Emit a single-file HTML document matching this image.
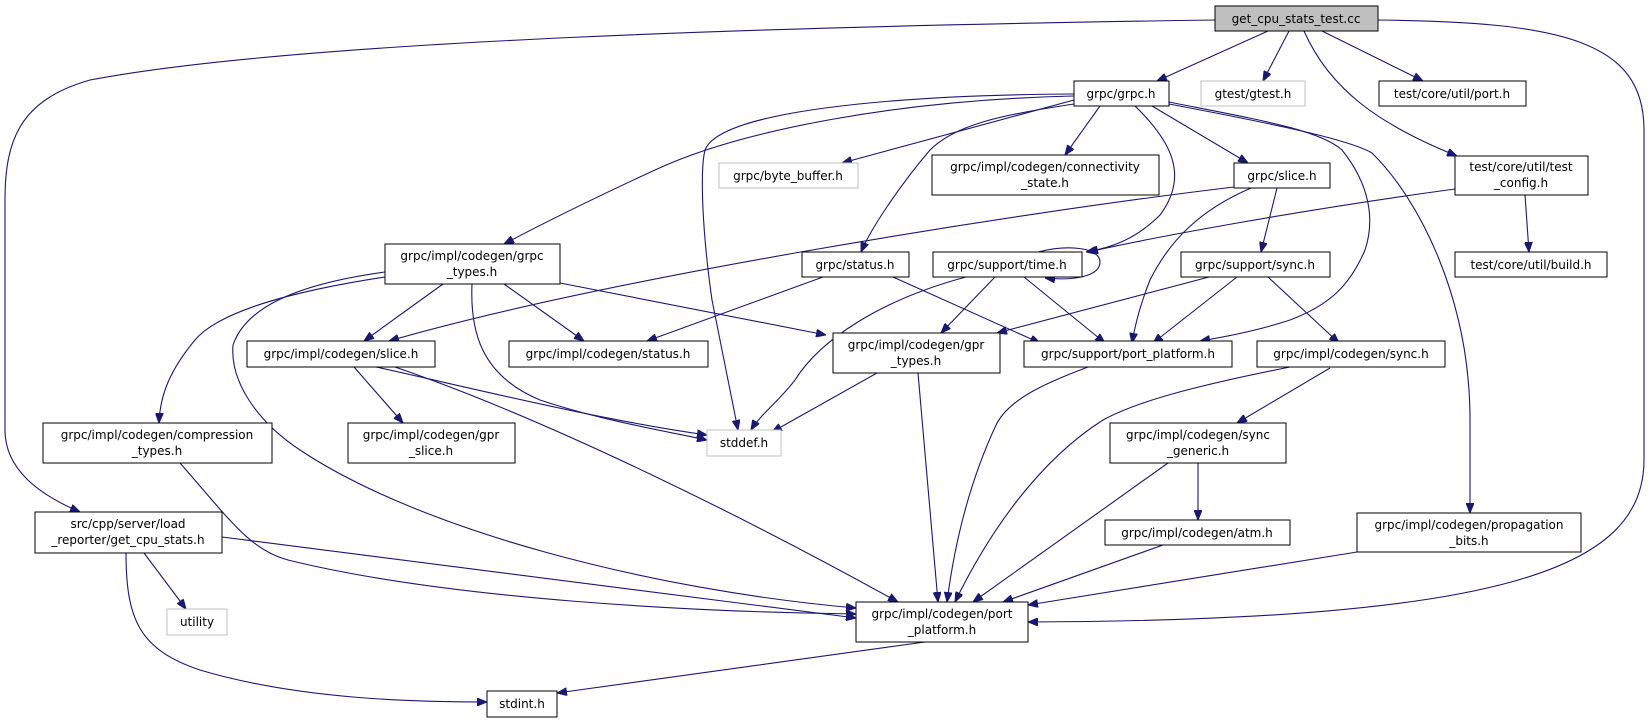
<!DOCTYPE html>
<html><head><meta charset="utf-8"><style>
html,body{margin:0;padding:0;background:#fff;}
svg{display:block;}
text{font-family:"DejaVu Sans","Liberation Sans",sans-serif;font-size:12px;fill:#000;text-anchor:middle;}
.b{fill:#fff;stroke:#000;stroke-width:1}
.g{fill:#fff;stroke:#bfbfbf;stroke-width:1}
.r{fill:#bfbfbf;stroke:#000;stroke-width:1}
.e path{fill:none;stroke:#191970;stroke-width:1.1}
</style></head><body>
<svg width="1650" height="723" viewBox="0 0 1650 723" xmlns="http://www.w3.org/2000/svg">
<defs><marker id="a" viewBox="0 0 10 8" refX="10" refY="4" markerWidth="10" markerHeight="8" orient="auto" markerUnits="userSpaceOnUse"><path d="M0,0 L10,4 L0,8 z" style="fill:#191970;stroke:#191970"/></marker></defs>
<g class="e" marker-end="url(#a)">
<path d="M1268,31 L1157,81"/>
<path d="M1289,31 L1263,81"/>
<path d="M1322,31 L1423,81"/>
<path d="M1304,31 C1330,90 1380,125 1457,156"/>
<path d="M1378,20 C1560,22 1644,40 1644,130 L1644,460 C1644,570 1500,620 1028,622"/>
<path d="M1215,20 C800,26 300,40 90,80 C20,100 5,140 5,200 L5,430 C5,470 40,495 80,512"/>
<path d="M1074,100 L842,163"/>
<path d="M1100,106 L1065,155"/>
<path d="M1152,106 L1248,163"/>
<path d="M1074,96 C900,100 740,130 655,170 C590,200 540,225 504,244"/>
<path d="M1074,94 C900,95 720,110 705,150 C700,170 702,230 712,300 L738,430"/>
<path d="M1074,104 C1000,115 955,125 930,150 C900,185 870,230 861,252"/>
<path d="M1135,106 C1170,140 1190,175 1160,215 C1135,240 1110,248 1086,252"/>
<path d="M1169,102 C1260,120 1320,130 1342,150 C1370,185 1375,220 1365,250 C1350,285 1330,305 1290,320 C1260,330 1230,336 1200,341"/>
<path d="M1169,104 C1280,125 1350,140 1372,153 C1420,200 1470,300 1470,420 L1470,513"/>
<path d="M1234,187 C1000,215 600,280 389,341"/>
<path d="M1251,188 C1200,210 1170,240 1150,280 C1140,305 1135,325 1132,343"/>
<path d="M1277,188 L1261,252"/>
<path d="M1455,189 C1300,210 1150,238 1088,252"/>
<path d="M1525,195 L1529,252"/>
<path d="M1038,252 C1070,244 1100,248 1100,262 C1100,276 1075,281 1045,278"/>
<path d="M995,277 L941,333"/>
<path d="M1024,277 L1105,343"/>
<path d="M966,277 C880,300 820,340 795,380 C780,400 760,415 751,430"/>
<path d="M823,277 L647,341"/>
<path d="M893,277 L1040,343"/>
<path d="M1209,277 L997,333"/>
<path d="M1237,277 L1153,343"/>
<path d="M1268,277 L1339,343"/>
<path d="M443,284 L364,341"/>
<path d="M504,284 L584,341"/>
<path d="M560,283 L826,335"/>
<path d="M472,284 C470,330 480,375 540,400 C600,420 660,430 707,440"/>
<path d="M385,277 C300,290 220,310 195,340 C170,370 160,395 159,423"/>
<path d="M385,272 C290,285 245,310 233,345 C230,380 255,420 300,450 C420,530 650,590 856,608"/>
<path d="M354,367 L403,423"/>
<path d="M376,367 C480,390 600,420 707,435"/>
<path d="M395,367 C550,420 750,520 898,602"/>
<path d="M877,373 L772,432"/>
<path d="M918,373 L938,602"/>
<path d="M1088,367 C1040,385 1010,400 997,423 C970,480 955,540 947,602"/>
<path d="M1290,367 C1200,385 1140,400 1103,420 C1040,460 990,530 955,602"/>
<path d="M1330,368 L1237,423"/>
<path d="M1168,463 L973,602"/>
<path d="M1198,463 L1198,520"/>
<path d="M1163,545 L1003,602"/>
<path d="M1357,552 L1028,605"/>
<path d="M180,463 C230,520 250,550 288,560 C450,600 700,612 856,614"/>
<path d="M222,537 L856,618"/>
<path d="M144,553 L186,609"/>
<path d="M126,553 C126,620 140,650 200,670 C300,700 420,702 487,702"/>
<path d="M925,642 L557,693"/>
</g>
<rect class="r" x="1215" y="6" width="163" height="25"/><text x="1296" y="23">get_cpu_stats_test.cc</text>
<rect class="b" x="1074" y="81" width="95" height="25"/><text x="1121" y="98">grpc/grpc.h</text>
<rect class="g" x="1201" y="81" width="104" height="25"/><text x="1253" y="98">gtest/gtest.h</text>
<rect class="b" x="1379" y="81" width="147" height="25"/><text x="1452" y="98">test/core/util/port.h</text>
<rect class="g" x="719" y="163" width="139" height="25"/><text x="788" y="180">grpc/byte_buffer.h</text>
<rect class="b" x="932" y="155" width="227" height="40"/><text x="1045" y="171">grpc/impl/codegen/connectivity</text><text x="1045" y="187">_state.h</text>
<rect class="b" x="1234" y="163" width="96" height="25"/><text x="1282" y="180">grpc/slice.h</text>
<rect class="b" x="1455" y="156" width="133" height="39"/><text x="1521" y="171">test/core/util/test</text><text x="1521" y="187">_config.h</text>
<rect class="b" x="385" y="244" width="175" height="40"/><text x="472" y="260">grpc/impl/codegen/grpc</text><text x="472" y="276">_types.h</text>
<rect class="b" x="802" y="252" width="107" height="25"/><text x="855" y="269">grpc/status.h</text>
<rect class="b" x="933" y="252" width="149" height="25"/><text x="1007" y="269">grpc/support/time.h</text>
<rect class="b" x="1181" y="252" width="149" height="25"/><text x="1255" y="269">grpc/support/sync.h</text>
<rect class="b" x="1455" y="252" width="152" height="25"/><text x="1531" y="269">test/core/util/build.h</text>
<rect class="b" x="247" y="341" width="188" height="26"/><text x="341" y="358">grpc/impl/codegen/slice.h</text>
<rect class="b" x="509" y="341" width="199" height="26"/><text x="608" y="358">grpc/impl/codegen/status.h</text>
<rect class="b" x="833" y="333" width="167" height="40"/><text x="916" y="349">grpc/impl/codegen/gpr</text><text x="916" y="365">_types.h</text>
<rect class="b" x="1024" y="341" width="208" height="26"/><text x="1128" y="358">grpc/support/port_platform.h</text>
<rect class="b" x="1257" y="341" width="188" height="26"/><text x="1351" y="358">grpc/impl/codegen/sync.h</text>
<rect class="b" x="43" y="423" width="229" height="40"/><text x="157" y="439">grpc/impl/codegen/compression</text><text x="157" y="455">_types.h</text>
<rect class="b" x="348" y="423" width="167" height="40"/><text x="431" y="439">grpc/impl/codegen/gpr</text><text x="431" y="455">_slice.h</text>
<rect class="g" x="707" y="430" width="74" height="26"/><text x="744" y="447">stddef.h</text>
<rect class="b" x="1110" y="423" width="176" height="40"/><text x="1198" y="439">grpc/impl/codegen/sync</text><text x="1198" y="455">_generic.h</text>
<rect class="b" x="35" y="512" width="187" height="41"/><text x="128" y="528">src/cpp/server/load</text><text x="128" y="544">_reporter/get_cpu_stats.h</text>
<rect class="g" x="167" y="609" width="60" height="26"/><text x="197" y="626">utility</text>
<rect class="b" x="1105" y="520" width="185" height="25"/><text x="1197" y="537">grpc/impl/codegen/atm.h</text>
<rect class="b" x="1357" y="513" width="224" height="39"/><text x="1469" y="529">grpc/impl/codegen/propagation</text><text x="1469" y="545">_bits.h</text>
<rect class="b" x="856" y="602" width="172" height="40"/><text x="942" y="618">grpc/impl/codegen/port</text><text x="942" y="634">_platform.h</text>
<rect class="b" x="487" y="691" width="70" height="26"/><text x="522" y="708">stdint.h</text>
</g>
</svg>
</body></html>
